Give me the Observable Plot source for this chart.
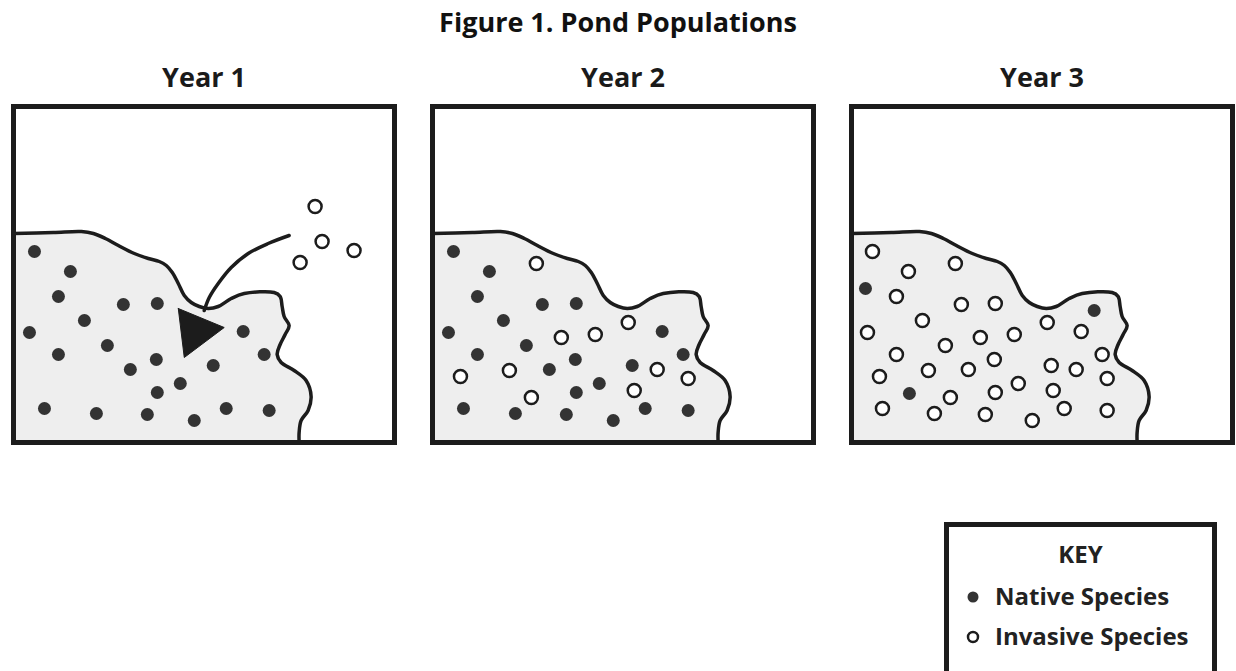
<!DOCTYPE html>
<html>
<head>
<meta charset="utf-8">
<script src="https://cdn.jsdelivr.net/npm/d3@7"></script>
<script src="https://cdn.jsdelivr.net/npm/@observablehq/plot@0.6"></script>
<style>
  body { margin: 0; background: #fff; font-family: "Open Sans", sans-serif; }
  #wrap { position: relative; width: 1236px; height: 671px; overflow: hidden; }
  #title { height: 44px; line-height: 44px; font-size: 27px; font-weight: 700; text-align: center; color: #111; }
  #chart svg { display: block; }
  #key { position: absolute; left: 944px; top: 522px; width: 273px; height: 220px; box-sizing: border-box;
         border: 5px solid #1c1c1c; background: #fff; color: #222; font-weight: 700; font-size: 24px; }
  #key .t { position: absolute; line-height: 24px; white-space: nowrap; }
  #key svg { position: absolute; left: 0; top: 0; }
</style>
</head>
<body>
<div id="wrap">
  <div id="title">Figure 1. Pond Populations</div>
  <div id="chart"></div>
  <div id="key"></div>
</div>
<script>
// ---------- data (panel-local units, origin at the top-left of each pond panel) ----------
const years = ["Year 1", "Year 2", "Year 3"];
const speciesLabels = ["Native Species", "Invasive Species"];
const keyTitle = "KEY";
const PANEL_W = 381.5;
const PANEL_H = 336;

const year1Native = [[21,145],[57,165],[45,190],[110,198],[144,197],[71,214],[16,226],[230,225],[45,248],[94,239],[143,253],[251,248],[117,263],[200,259],[167,277],[144,286],[31,302],[83,307],[134,308],[181,314],[213,302],[256,304]];
const year1Invasive = [[302,100],[309,135],[287,156],[341,144]];

const year2Native = [[21,145],[57,165],[45,190],[110,198],[144,197],[71,214],[16,226],[230,225],[45,248],[94,239],[143,253],[251,248],[117,263],[200,259],[167,277],[144,286],[31,302],[83,307],[134,308],[181,314],[213,302],[256,304]];
const year2Invasive = [[104,157],[196,216],[129,231],[163,228],[28,270],[77,264],[225,263],[256,272],[202,284],[99,291]];

const year3Native = [[14,182],[243,204],[58,287]];
const year3Invasive = [[21,145],[57,165],[45,190],[110,198],[144,197],[71,214],[16,226],[230,225],[45,248],[94,239],[143,253],[251,248],[117,263],[200,259],[167,277],[144,286],[31,302],[83,307],[134,308],[181,314],[213,302],[256,304],
  [104,157],[196,216],[129,231],[163,228],[28,270],[77,264],[225,263],[256,272],[202,284],[99,291]];

const pondOutline = [[0,127],[40,126],[68,125],[80,127],[92,132],[105,139],[121,147],[135,152],[146,155],[153,159],[159,166],[165,177],[171,189],[178,196],[186,200],[195,202],[205,200],[218,192],[231,187],[261,186],[267,190],[269,200],[271,210],[276,219],[272,228],[267,238],[264,248],[268,256],[281,264],[293,274],[298,290],[295,304],[288,314],[286,326],[286,336]];

const arrowPath = [[276,129],[255,137],[235,147],[218,161],[205,177],[196,191],[191,204]];
const arrowHead = [[165,202],[211,221],[171,251],[165,202]];
const arrowYear = "Year 1";

// ---------- build tables ----------
const dots = [];
function addDots(year, species, pts) { for (const [x, y] of pts) dots.push({year, species, x, y}); }
addDots(years[0], "Native", year1Native);
addDots(years[0], "Invasive", year1Invasive);
addDots(years[1], "Native", year2Native);
addDots(years[1], "Invasive", year2Invasive);
addDots(years[2], "Native", year3Native);
addDots(years[2], "Invasive", year3Invasive);

const pondFill = pondOutline.concat([[0, PANEL_H]]);
const arrowLine = arrowPath.map(([x, y]) => ({x, y, year: arrowYear}));
const arrowTip = arrowHead.map(([x, y]) => ({x, y, year: arrowYear}));

const INK = "#1c1c1c";

const chart = Plot.plot({
  width: 1236,
  height: 402,
  marginLeft: 12,
  marginRight: 3,
  marginTop: 62,
  marginBottom: 4,
  style: {fontFamily: '"Open Sans", sans-serif', fontWeight: 700, color: "#1a1a1a", background: "transparent", overflow: "visible"},
  fx: {domain: years, paddingInner: 0.0911, paddingOuter: 0, label: null},
  x: {domain: [0, PANEL_W], axis: null},
  y: {domain: [0, PANEL_H], reverse: true, axis: null},
  marks: [
    Plot.line(pondFill, {x: d => d[0], y: d => d[1], fill: "#eeeeee", stroke: "none"}),
    Plot.line(pondOutline, {x: d => d[0], y: d => d[1], stroke: INK, strokeWidth: 3.5, curve: "catmull-rom"}),
    Plot.line(arrowLine, {x: "x", y: "y", fx: "year", stroke: INK, strokeWidth: 3.5, curve: "catmull-rom"}),
    Plot.line(arrowTip, {x: "x", y: "y", fx: "year", fill: INK, stroke: INK, strokeWidth: 1}),
    Plot.dot(dots.filter(d => d.species === "Native"), {x: "x", y: "y", fx: "year", r: 6.5, fill: "#333333", stroke: "none"}),
    Plot.dot(dots.filter(d => d.species === "Invasive"), {x: "x", y: "y", fx: "year", r: 6.5, fill: "#ffffff", stroke: INK, strokeWidth: 2.5}),
    Plot.frame({stroke: INK, strokeWidth: 5}),
    Plot.axisFx({anchor: "top", tickSize: 0, tickPadding: 20, fontSize: 27, fontWeight: 700, label: null})
  ]
});
document.getElementById("chart").appendChild(chart);

// ---------- key (legend) ----------
const key = document.getElementById("key");
const ns = "http://www.w3.org/2000/svg";
const ksvg = document.createElementNS(ns, "svg");
ksvg.setAttribute("width", 263);
ksvg.setAttribute("height", 200);
const c1 = document.createElementNS(ns, "circle");
c1.setAttribute("cx", 24); c1.setAttribute("cy", 70); c1.setAttribute("r", 5.5); c1.setAttribute("fill", "#333");
const c2 = document.createElementNS(ns, "circle");
c2.setAttribute("cx", 24); c2.setAttribute("cy", 110); c2.setAttribute("r", 5); c2.setAttribute("fill", "#fff");
c2.setAttribute("stroke", INK); c2.setAttribute("stroke-width", 2.5);
ksvg.appendChild(c1); ksvg.appendChild(c2);
key.appendChild(ksvg);

function keyText(text, left, top, center) {
  const d = document.createElement("div");
  d.className = "t";
  d.textContent = text;
  d.style.top = top + "px";
  if (center) { d.style.left = "0px"; d.style.width = "100%"; d.style.textAlign = "center"; }
  else d.style.left = left + "px";
  key.appendChild(d);
}
keyText(keyTitle, 0, 15, true);
keyText(speciesLabels[0], 46, 57, false);
keyText(speciesLabels[1], 46, 97, false);
</script>
</body>
</html>
